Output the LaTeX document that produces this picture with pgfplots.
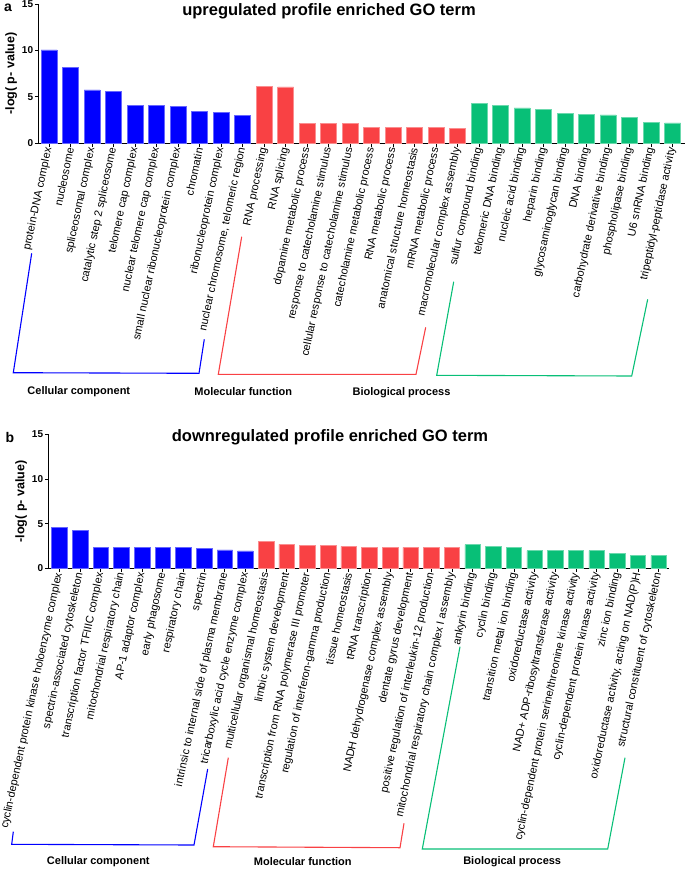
\documentclass[border=0pt]{standalone}
\usepackage{pgfplots}
\pgfplotsset{compat=1.18}
\usepackage{fontspec}
\setmainfont{Liberation Sans}
\definecolor{cblue}{HTML}{0000FF}
\definecolor{cred}{HTML}{F94144}
\definecolor{cgreen}{HTML}{08BF77}
\tikzset{grp/.style={font=\bfseries\fontsize{11}{13}\selectfont}}
\pgfplotsset{
  goaxis/.style={
    scale only axis,
    axis x line*=bottom, axis y line*=left,
    axis line style={line width=1.2pt},
    ymin=0, ymax=15, ytick={0,5,10,15},
    xtick={0,...,29},
    tick align=outside, major tick length=3.5pt,
    tick style={line width=0.9pt, black},
    /pgf/number format/assume math mode=true,
    yticklabel style={font=\bfseries\fontsize{10}{11}\selectfont, inner sep=1.5pt},
    xticklabel style={rotate=78, anchor=east, font=\fontsize{11}{12}\selectfont, inner sep=1pt},
    ylabel={-log( p- value)},
    ylabel style={font=\bfseries\fontsize{12.5}{14}\selectfont},
    clip=false,
  },
}
\begin{document}
\begin{tikzpicture}
\useasboundingbox (0pt,0pt) rectangle (685pt,-870pt);
% ---------------- panel a ----------------
\begin{scope}[shift={(38.3pt,-143.3pt)}]
\begin{axis}[goaxis,
  at={(0pt,0pt)}, anchor=south west,
  width=646.7pt, height=139.3pt,
  xmin=-0.5, xmax=29.58,
  ybar, bar width=16pt,
  xticklabels={protein-DNA complex, nucleosome, spliceosomal complex, catalytic step 2 spliceosome, telomere cap complex, nuclear telomere cap complex, small nuclear ribonucleoprotein complex, chromatin, ribonucleoprotein complex, {nuclear chromosome, telomeric region},
  RNA processing, RNA splicing, dopamine metabolic process, response to catecholamine stimulus, cellular response to catecholamine stimulus, catecholamine metabolic process, RNA metabolic process, anatomical structure homeostasis, mRNA metabolic process, macromolecular complex assembly,
  sulfur compound binding, telomeric DNA binding, nucleic acid binding, heparin binding, glycosaminoglycan binding, DNA binding, carbohydrate derivative binding, phospholipase binding, U6 snRNA binding, tripeptidyl-peptidase activity},
]
\addplot[bar shift=0pt, fill=cblue, draw=cblue!60!white, line width=0.6pt] coordinates {
(0,10.05) (1,8.2) (2,5.75) (3,5.57) (4,4.1) (5,4.1) (6,3.95) (7,3.41) (8,3.34) (9,3.02)};
\addplot[bar shift=0pt, fill=cred, draw=cred!60!white, line width=0.6pt] coordinates {
(10,6.15) (11,6.07) (12,2.16) (13,2.16) (14,2.16) (15,1.68) (16,1.68) (17,1.68) (18,1.68) (19,1.62)};
\addplot[bar shift=0pt, fill=cgreen, draw=cgreen!60!white, line width=0.6pt] coordinates {
(20,4.27) (21,4.06) (22,3.81) (23,3.67) (24,3.24) (25,3.13) (26,3.05) (27,2.8) (28,2.27) (29,2.19)};
\end{axis}
\end{scope}
\node[font=\bfseries\fontsize{14}{16}\selectfont] at (8pt,-8pt) {a};
\node[font=\bfseries\fontsize{16.5}{18}\selectfont] at (329pt,-11pt) {upregulated profile enriched GO term};
\draw[cblue, line width=1.1pt] (31.7pt,-253.3pt) -- (13.3pt,-372.7pt) -- (199pt,-373.3pt) -- (204.3pt,-339.3pt);
\draw[cred, line width=1.1pt] (241.7pt,-236.7pt) -- (218.3pt,-374.3pt) -- (416pt,-374.3pt) -- (425.7pt,-327.3pt);
\draw[cgreen, line width=1.1pt] (453.7pt,-281.7pt) -- (436.7pt,-375.3pt) -- (631.7pt,-376pt) -- (647.7pt,-299.3pt);
\node[grp] at (78.8pt,-391.7pt) {Cellular component};
\node[grp] at (243.3pt,-392pt) {Molecular function};
\node[grp] at (401.5pt,-393pt) {Biological process};
% ---------------- panel b ----------------
\begin{scope}[shift={(48.3pt,-568.3pt)}]
\begin{axis}[goaxis,
  at={(0pt,0pt)}, anchor=south west,
  width=620.7pt, height=134pt,
  xmin=-0.54, xmax=29.5,
  ybar, bar width=15.5pt,
  xticklabels={cyclin-dependent protein kinase holoenzyme complex, spectrin-associated cytoskeleton, transcription factor TFIIIC complex, mitochondrial respiratory chain, AP-1 adaptor complex, early phagosome, respiratory chain, spectrin, intrinsic to internal side of plasma membrane, tricarboxylic acid cycle enzyme complex,
  multicellular organismal homeostasis, limbic system development, transcription from RNA polymerase III promoter, regulation of interferon-gamma production, tissue homeostasis, tRNA transcription, NADH dehydrogenase complex assembly, dentate gyrus development, positive regulation of interleukin-12 production, mitochondrial respiratory chain complex I assembly,
  ankyrin binding, cyclin binding, transition metal ion binding, oxidoreductase activity, NAD+ ADP-ribosyltransferase activity, cyclin-dependent protein serine/threonine kinase activity, cyclin-dependent protein kinase activity, zinc ion binding, {oxidoreductase activity, acting on NAD(P)H}, structural constituent of cytoskeleton},
]
\addplot[bar shift=0pt, fill=cblue, draw=cblue!60!white, line width=0.6pt] coordinates {
(0,4.62) (1,4.2) (2,2.38) (3,2.38) (4,2.38) (5,2.38) (6,2.38) (7,2.27) (8,2.05) (9,1.94)};
\addplot[bar shift=0pt, fill=cred, draw=cred!60!white, line width=0.6pt] coordinates {
(10,3.05) (11,2.68) (12,2.53) (13,2.53) (14,2.45) (15,2.35) (16,2.35) (17,2.35) (18,2.35) (19,2.35)};
\addplot[bar shift=0pt, fill=cgreen, draw=cgreen!60!white, line width=0.6pt] coordinates {
(20,2.65) (21,2.42) (22,2.31) (23,1.98) (24,1.98) (25,1.98) (26,1.98) (27,1.68) (28,1.45) (29,1.43)};
\end{axis}
\end{scope}
\node[font=\bfseries\fontsize{14}{16}\selectfont] at (10pt,-437.7pt) {b};
\node[font=\bfseries\fontsize{16.5}{18}\selectfont] at (330pt,-437.7pt) {downregulated profile enriched GO term};
\draw[cblue, line width=1.1pt] (13.3pt,-831.7pt) -- (11.7pt,-844.3pt) -- (194pt,-845pt) -- (207.7pt,-769pt);
\draw[cred, line width=1.1pt] (228.3pt,-757.7pt) -- (213.3pt,-846.7pt) -- (400pt,-847.7pt) -- (404pt,-823.3pt);
\draw[cgreen, line width=1.1pt] (460pt,-646.7pt) -- (422.3pt,-849pt) -- (607.7pt,-849pt) -- (625pt,-757.7pt);
\node[grp] at (98.3pt,-861.7pt) {Cellular component};
\node[grp] at (302.8pt,-862pt) {Molecular function};
\node[grp] at (512.2pt,-862pt) {Biological process};
\end{tikzpicture}
\end{document}
